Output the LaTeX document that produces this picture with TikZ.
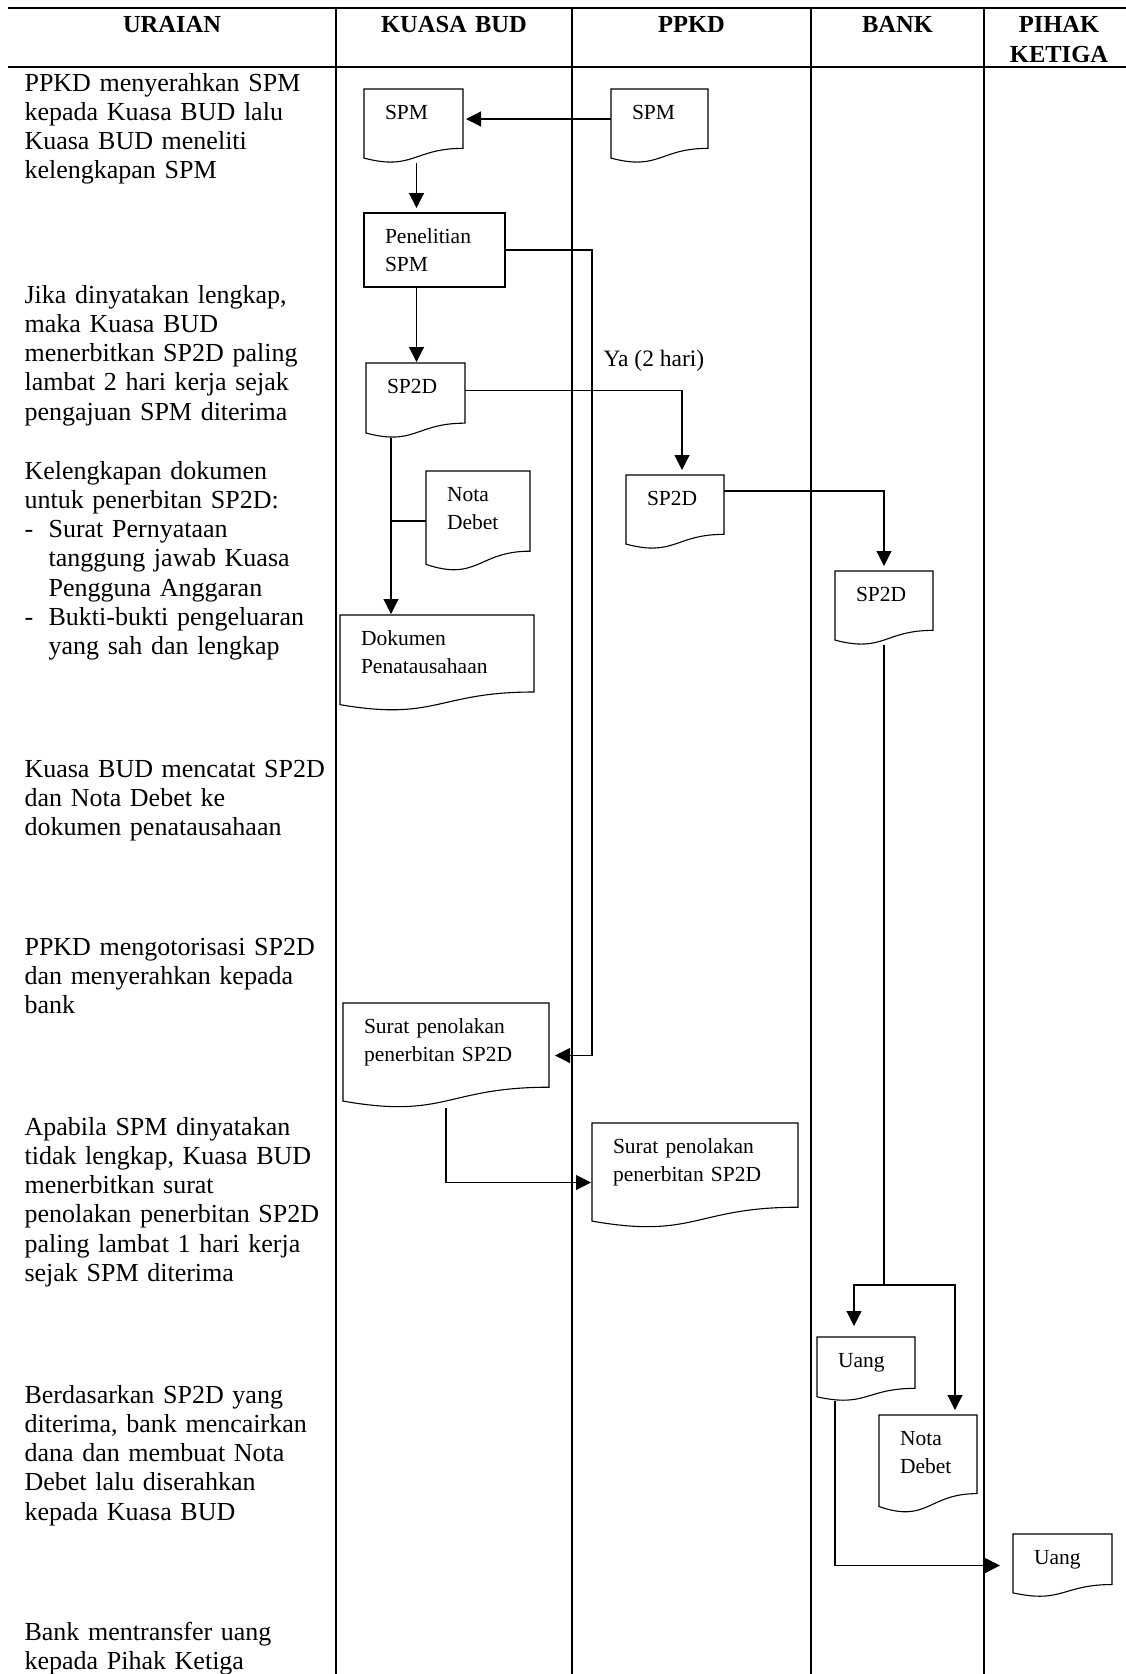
\documentclass[tikz,border=0pt]{standalone}
\usepackage{fontspec}
\setmainfont{Liberation Serif}
\usepackage{tikz}
\usetikzlibrary{
        arrows.meta,
        calc,
        positioning
    }
\tikzset{>={Triangle[length=15pt,width=15pt]}}
\tikzset{hv/.style={to path={-| (\tikztotarget)}},vh/.style={to path={|- (\tikztotarget)}}}

\begin{document}
\begin{tikzpicture}[x=1pt,y=-1pt,line width=1.1pt,
        lane/.style={line width=1.5pt},
        kepala/.style={font=\fontsize{24.5}{30}\selectfont\bfseries,text width=150pt,align=center,anchor=base,inner sep=0pt},
        uraian/.style={font=\fontsize{26}{29.3}\selectfont,text width=310pt,align=left,anchor=base west,inner sep=0pt},
        doc/.style 2 args={anchor=north west,inner xsep=21pt,inner ysep=0pt,outer sep=0pt,
            text width=#1pt-42pt,text height=30pt,text depth=#2pt-30pt,align=left,
            font=\fontsize{21.5}{28}\selectfont},
        proc/.style 2 args={doc={#1}{#2},draw}]
    \useasboundingbox (0,0) rectangle (1126,1674);
    \clip (0,0) rectangle (1126,1674);

    \draw[line width=1.8pt] (8,8) -- (1126,8);
    \draw[lane] (8,67) -- (1126,67);
    \foreach \x in {336,572,811,984}
        \draw[lane] (\x,8) -- (\x,1674);

    \node[kepala] (hUraian) at (172,32)   {URAIAN};
    \node[kepala] (hKuasa)  at (454,32)   {KUASA BUD};
    \node[kepala] (hPpkd)   at (691.5,32) {PPKD};
    \node[kepala] (hBank)   at (897.5,32) {BANK};
    \node[kepala] (hPihak)  at (1059,32)  {PIHAK\\KETIGA};

    \node[uraian] (u1) at (24,91)   {PPKD menyerahkan SPM\\kepada Kuasa BUD lalu\\Kuasa BUD meneliti\\kelengkapan SPM};
    \node[uraian] (u2) at (24,303)  {Jika dinyatakan lengkap,\\maka Kuasa BUD\\menerbitkan SP2D paling\\lambat 2 hari kerja sejak\\pengajuan SPM diterima};
    \node[uraian] (u3) at (24,479)  {Kelengkapan dokumen\\untuk penerbitan SP2D:\\\makebox[24pt][l]{-}Surat Pernyataan\\\hspace*{24pt}tanggung jawab Kuasa\\\hspace*{24pt}Pengguna Anggaran\\\makebox[24pt][l]{-}Bukti-bukti pengeluaran\\\hspace*{24pt}yang sah dan lengkap};
    \node[uraian] (u4) at (24,777)  {Kuasa BUD mencatat SP2D\\dan Nota Debet ke\\dokumen penatausahaan};
    \node[uraian] (u5) at (24,955)  {PPKD mengotorisasi SP2D\\dan menyerahkan kepada\\bank};
    \node[uraian] (u6) at (24,1135) {Apabila SPM dinyatakan\\tidak lengkap, Kuasa BUD\\menerbitkan surat\\penolakan penerbitan SP2D\\paling lambat 1 hari kerja\\sejak SPM diterima};
    \node[uraian] (u7) at (24,1403) {Berdasarkan SP2D yang\\diterima, bank mencairkan\\dana dan membuat Nota\\Debet lalu diserahkan\\kepada Kuasa BUD};
    \node[uraian] (u8) at (24,1640) {Bank mentransfer uang\\kepada Pihak Ketiga};

    \node[doc={99}{74}]   (spmK)   at (364,89)   {SPM};
    \node[doc={97}{74}]   (spmP)   at (611,89)   {SPM};
    \node[proc={141}{74}] (penel)  at (364,213)  {Penelitian\\SPM};
    \node[doc={99}{75}]   (sppK)   at (366,363)  {SP2D};
    \node[doc={104}{100}] (notaK)  at (426,471)  {Nota\\Debet};
    \node[doc={194}{96}]  (dokum)  at (340,615)  {Dokumen\\Penatausahaan};
    \node[doc={98}{74}]   (sppP)   at (626,475)  {SP2D};
    \node[doc={98}{74}]   (sppB)   at (835,571)  {SP2D};
    \node[doc={206}{105}] (tolakK) at (343,1003) {Surat penolakan\\penerbitan SP2D};
    \node[doc={206}{105}] (tolakP) at (592,1123) {Surat penolakan\\penerbitan SP2D};
    \node[doc={98}{64}]   (uangB)  at (817,1337) {Uang};
    \node[doc={98}{98}]   (notaB)  at (879,1415) {Nota\\Debet};
    \node[doc={99}{63}]   (uangT)  at (1013,1534) {Uang};
    \node[anchor=base west,inner sep=0pt,font=\fontsize{23.5}{28}\selectfont] (ya) at (603,366) {Ya (2 hari)};

    \foreach \nm in {spmK,spmP,sppK,notaK,dokum,sppP,sppB,tolakK,tolakP,uangB,notaB,uangT}
        \draw (\nm.north west) -- (\nm.north east)
            -- ($(\nm.north east)!0.802!(\nm.south east)$)
            .. controls ($(\nm.north)!0.802!(\nm.south)$) and ($(\nm.north)!1.1075!(\nm.south)$)
            .. ($(\nm.north west)!0.934!(\nm.south west)$) -- cycle;

    \draw[->,shorten >=6pt] (penel.east) -- ++(87,0) |- (tolakK.east);
    \draw (sppB.south) -- ++(0,640) coordinate (cabang);
    \draw (notaK.west) -- ([xshift=-24.5pt]sppK.south |- notaK.west);
    \path[->,shorten >=1pt]
        ([yshift=7pt]spmP.west) edge[shorten >=3pt] ([yshift=7pt]spmK.east)
        ([xshift=3pt]spmK.south) edge[shorten >=5pt] ([xshift=3pt]spmK.south |- penel.north)
        ([xshift=3pt]spmK.south |- penel.south) edge ([xshift=3pt]spmK.south |- sppK.north)
        ([yshift=10pt]sppK.east) edge[hv,shorten >=5pt] ([xshift=7pt]sppP.north)
        ([xshift=-24.5pt]sppK.south) edge ([xshift=-24.5pt]sppK.south |- dokum.north)
        ([yshift=21pt]sppP.east) edge[hv,shorten >=5pt] (sppB.north)
        (cabang) edge[hv,shorten >=11pt] ([xshift=-12pt]uangB.north)
        (cabang) edge[hv,shorten >=5pt] ([xshift=27pt]notaB.north)
        ([xshift=-31pt]uangB.south) edge[vh,shorten >=13pt] (uangT.west)
        (tolakK.south) edge[vh] ([yshift=-7pt]tolakP.west)
    ;
\end{tikzpicture}
\end{document}
